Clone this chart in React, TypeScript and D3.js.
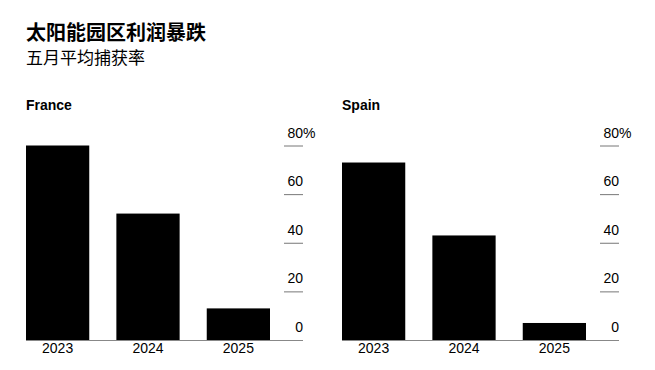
import * as d3 from 'd3';

const years = ['2023', '2024', '2025'];
const franceValues = [80, 52, 13];
const spainValues = [73, 43, 7];
const yTicks = [0, 20, 40, 60, 80];

const panels = [
  { name: 'France', values: franceValues },
  { name: 'Spain', values: spainValues },
];

const width = 655;
const height = 370;
const font = '"Liberation Sans", Arial, "Noto Sans CJK SC", sans-serif';

const Panel = ({ name, values, left }) => {
  const plotW = 277;
  const axisLeft = 258;
  const x = d3.scaleBand().domain(years).range([0, 244]).paddingInner(0.3).paddingOuter(0);
  const y = d3.scaleLinear().domain([0, 80]).range([340, 145.5]);

  return (
    <g transform={`translate(${left},0)`}>
      <text x={0} y={110} fontSize={14} fontWeight="bold" fill="#000">{name}</text>
      {values.map((v, i) => (
        <rect key={years[i]} x={x(years[i])} y={y(v)} width={x.bandwidth()} height={y(0) - y(v)} fill="#000" />
      ))}
      {yTicks.map(t => (
        <g key={t}>
          {t > 0 && <line x1={axisLeft} x2={plotW} y1={y(t) + 0.5} y2={y(t) + 0.5} stroke="#777" strokeWidth={1} />}
          <text x={plotW} y={y(t) - 8} fontSize={14} textAnchor="end" fill="#000">{t}</text>
          {t === 80 && <text x={plotW} y={y(t) - 8} fontSize={14} fill="#000">%</text>}
        </g>
      ))}
      <line x1={0} x2={plotW} y1={y(0) + 0.5} y2={y(0) + 0.5} stroke="#888" strokeWidth={1} />
      {years.map(yr => (
        <text key={yr} x={x(yr) + x.bandwidth() / 2} y={353} fontSize={14} textAnchor="middle" fill="#000">{yr}</text>
      ))}
    </g>
  );
};

export default function App() {
  return (
    <svg width={width} height={height} viewBox={`0 0 ${width} ${height}`}
      style={{ position: 'absolute', left: 0, top: 0, fontFamily: font, background: '#fff' }}>
      <text x={26} y={40} fontSize={20} fontWeight="bold" fill="#000" fontFamily='"Noto Sans CJK SC", sans-serif'>太阳能园区利润暴跌</text>
      <text x={26} y={64} fontSize={17} fill="#000" fontFamily='"Noto Sans CJK SC", sans-serif'>五月平均捕获率</text>
      {panels.map((p, i) => (
        <Panel key={p.name} name={p.name} values={p.values} left={26 + i * 316} />
      ))}
    </svg>
  );
}
